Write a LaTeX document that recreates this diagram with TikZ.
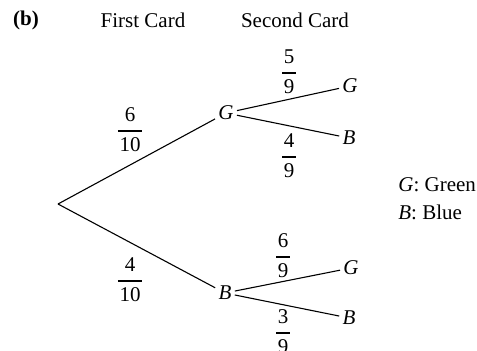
\documentclass[tikz,border=0pt]{standalone}
\usepackage{amsmath}
\usepackage{fontspec}
\setmainfont{Liberation Serif}
\newcommand\fr[2]{$\genfrac{}{}{0.9pt}{0}{\mbox{\kern0.8pt#1\kern0.8pt}}{\mbox{\kern0.8pt#2\kern0.8pt}}$}
\begin{document}
\begin{tikzpicture}[x=0.5pt,y=-0.5pt,
  every node/.style={font=\fontsize{10.5}{12.6}\selectfont},
  lbl/.style={inner sep=1.5pt},
  br/.style={line width=0.55pt},
  prob/.style={inner sep=0pt}]
\useasboundingbox (0,0) rectangle (477,350);
\node[font=\fontsize{10.5}{12.6}\selectfont\bfseries] (b) at (26,20) {(b)};
\node (h1) at (143,20) {First Card};
\node (h2) at (295,20) {Second Card};
\coordinate (root) at (58,204);
\node[lbl] (G1) at (226,113) {\textit{G}};
\node[lbl] (B1) at (225,293) {\textit{B}};
\node[lbl] (GG) at (350,86) {\textit{G}};
\node[lbl] (GB) at (349,138) {\textit{B}};
\node[lbl] (BG) at (351,268) {\textit{G}};
\node[lbl] (BB) at (349,318) {\textit{B}};
\draw[br] (root) -- (G1);
\draw[br] (root) -- (B1);
\draw[br] (G1) -- (GG);
\draw[br] (G1) -- (GB);
\draw[br] (B1) -- (BG);
\draw[br] (B1) -- (BB);
\node[prob] (p1) at (130,130) {\fr{6}{10}};
\node[prob] (p2) at (130,280) {\fr{4}{10}};
\node[prob] (p3) at (289,72) {\fr{5}{9}};
\node[prob] (p4) at (289,156) {\fr{4}{9}};
\node[prob] (p5) at (283,256) {\fr{6}{9}};
\node[prob] (p6) at (283,332) {\fr{3}{9}};
\node[anchor=west,inner sep=0pt] (l1) at (398,185) {\textit{G}: Green};
\node[anchor=west,inner sep=0pt] (l2) at (398,212) {\textit{B}: Blue};
\end{tikzpicture}
\end{document}
